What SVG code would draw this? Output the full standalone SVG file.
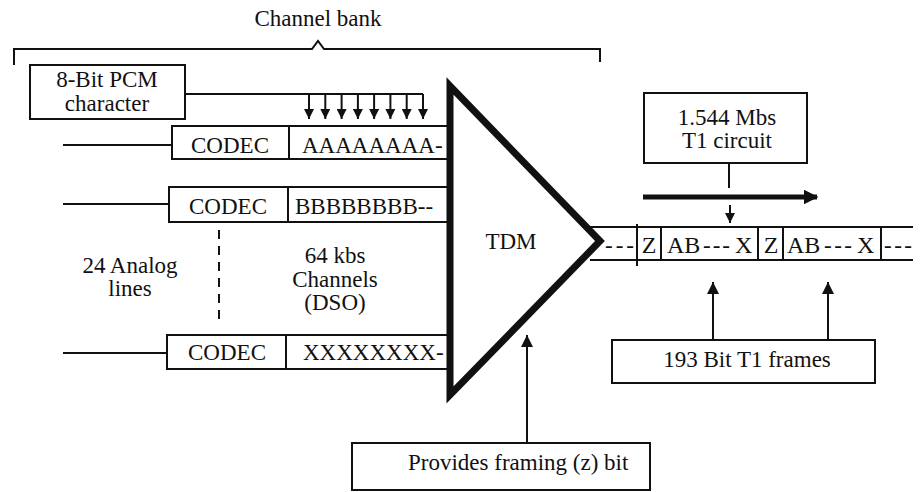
<svg xmlns="http://www.w3.org/2000/svg" width="920" height="492" viewBox="0 0 920 492" font-family="'Liberation Serif', 'DejaVu Serif', serif">
<defs>
<style>
text{font-family:'Liberation Serif','DejaVu Serif',serif;font-size:23px;fill:#111}
.box{fill:#fff;stroke:#111;stroke-width:2}
.ln{fill:none;stroke:#111;stroke-width:2}
.mid{text-anchor:middle}
.s24{font-size:24px}
</style>
<marker id="ah" viewBox="0 0 10 10" refX="10" refY="5" markerWidth="10" markerHeight="10" markerUnits="userSpaceOnUse" orient="auto">
<path d="M0,0 L10,5 L0,10 Z" fill="#111"/>
</marker>
<marker id="ahL" viewBox="0 0 10 10" refX="10" refY="5" markerWidth="12" markerHeight="12" markerUnits="userSpaceOnUse" orient="auto">
<path d="M0,0 L10,5 L0,10 Z" fill="#111"/>
</marker>
<marker id="ahB" viewBox="0 0 10 10" refX="9" refY="5" markerWidth="3" markerHeight="3" orient="auto">
<path d="M0,0 L10,5 L0,10 Z" fill="#111"/>
</marker>
</defs>
<rect width="920" height="492" fill="#fff"/>

<g id="channel-bank">
<text class="mid" x="318" y="26">Channel bank</text>
<path class="ln" d="M14,65 V49 H312 L318,41 L324,49 H600 V62"/>
</g>

<g id="connectors">
<line class="ln" x1="185" y1="94" x2="423" y2="94"/>
<line class="ln" x1="309" y1="94" x2="309" y2="119" marker-end="url(#ah)"/>
<line class="ln" x1="325.3" y1="94" x2="325.3" y2="119" marker-end="url(#ah)"/>
<line class="ln" x1="341.6" y1="94" x2="341.6" y2="119" marker-end="url(#ah)"/>
<line class="ln" x1="357.9" y1="94" x2="357.9" y2="119" marker-end="url(#ah)"/>
<line class="ln" x1="374.1" y1="94" x2="374.1" y2="119" marker-end="url(#ah)"/>
<line class="ln" x1="390.4" y1="94" x2="390.4" y2="119" marker-end="url(#ah)"/>
<line class="ln" x1="406.7" y1="94" x2="406.7" y2="119" marker-end="url(#ah)"/>
<line class="ln" x1="423" y1="94" x2="423" y2="119" marker-end="url(#ah)"/>
<line class="ln" x1="63" y1="145" x2="172" y2="145"/>
<line class="ln" x1="63" y1="204" x2="169" y2="204"/>
<line class="ln" x1="63" y1="353" x2="167" y2="353"/>
<line class="ln" x1="219" y1="230" x2="219" y2="320" stroke-dasharray="9,7"/>
<line class="ln" x1="729" y1="163" x2="729" y2="188"/>
<line x1="643" y1="197" x2="817" y2="197" stroke="#111" stroke-width="5" marker-end="url(#ahB)"/>
<line class="ln" x1="730" y1="205" x2="730" y2="223" marker-end="url(#ah)"/>
<line class="ln" x1="713" y1="340" x2="713" y2="282" marker-end="url(#ahL)"/>
<line class="ln" x1="828" y1="340" x2="828" y2="282" marker-end="url(#ahL)"/>
<line class="ln" x1="527" y1="443" x2="527" y2="335" marker-end="url(#ahL)"/>
</g>

<g id="pcm-character">
<rect class="box" x="30" y="65" width="155" height="54"/>
<text class="mid" x="107" y="87">8-Bit PCM</text>
<text class="mid" x="107" y="111">character</text>
</g>

<g id="row-a">
<rect class="box" x="172" y="126" width="276" height="33"/>
<line class="ln" x1="289" y1="126" x2="289" y2="159"/>
<text class="mid" x="230" y="153">CODEC</text>
<text x="302" y="153">AAAAAAAA-</text>
</g>

<g id="row-b">
<rect class="box" x="169" y="187" width="279" height="35"/>
<line class="ln" x1="288" y1="187" x2="288" y2="222"/>
<text class="mid" x="228" y="214">CODEC</text>
<text x="295" y="214">BBBBBBBB--</text>
</g>

<g id="row-x">
<rect class="box" x="167" y="335" width="281" height="34"/>
<line class="ln" x1="286" y1="335" x2="286" y2="369"/>
<text class="mid" x="227" y="360">CODEC</text>
<text x="303" y="360">XXXXXXXX-</text>
</g>

<g id="analog-lines">
<text class="mid" x="130" y="273">24 Analog</text>
<text class="mid" x="130" y="296">lines</text>
</g>

<g id="channels">
<text class="mid" x="335" y="263">64 kbs</text>
<text class="mid" x="335" y="287">Channels</text>
<text class="mid" x="335" y="310">(DSO)</text>
</g>

<g id="tdm">
<polygon points="450,86 600,241 450,395" fill="none" stroke="#111" stroke-width="7" stroke-linejoin="miter"/>
<text class="mid" x="511" y="249">TDM</text>
</g>

<g id="t1-circuit">
<rect class="box" x="644" y="93" width="163" height="70"/>
<text class="mid" x="727" y="125">1.544 Mbs</text>
<text class="mid" x="727" y="148">T1 circuit</text>
</g>

<g id="t1-stream">
<line class="ln" x1="590" y1="227" x2="913" y2="227"/>
<line class="ln" x1="590" y1="260" x2="913" y2="260"/>
<line class="ln" x1="637" y1="224" x2="637" y2="266"/>
<line class="ln" x1="661" y1="227" x2="661" y2="260"/>
<line class="ln" x1="758" y1="227" x2="758" y2="260"/>
<line class="ln" x1="783" y1="227" x2="783" y2="260"/>
<line class="ln" x1="881" y1="227" x2="881" y2="260"/>
<text x="605" y="253" textLength="29" lengthAdjust="spacing">---</text>
<text class="mid s24" x="649" y="253">Z</text>
<text class="s24" x="667" y="253">AB</text>
<text x="703" y="253" textLength="27" lengthAdjust="spacing">---</text>
<text class="s24" x="735" y="253">X</text>
<text class="mid s24" x="771" y="253">Z</text>
<text class="s24" x="787" y="253">AB</text>
<text x="824" y="253" textLength="28" lengthAdjust="spacing">---</text>
<text class="s24" x="857" y="253">X</text>
<text x="884" y="253" textLength="28" lengthAdjust="spacing">---</text>
</g>

<g id="t1-frames">
<rect class="box" x="612" y="340" width="263" height="43"/>
<text class="mid" x="747" y="367">193 Bit T1 frames</text>
</g>

<g id="framing-bit">
<rect class="box" x="352" y="443" width="298" height="47"/>
<text x="408" y="470">Provides framing (z) bit</text>
</g>
</svg>
